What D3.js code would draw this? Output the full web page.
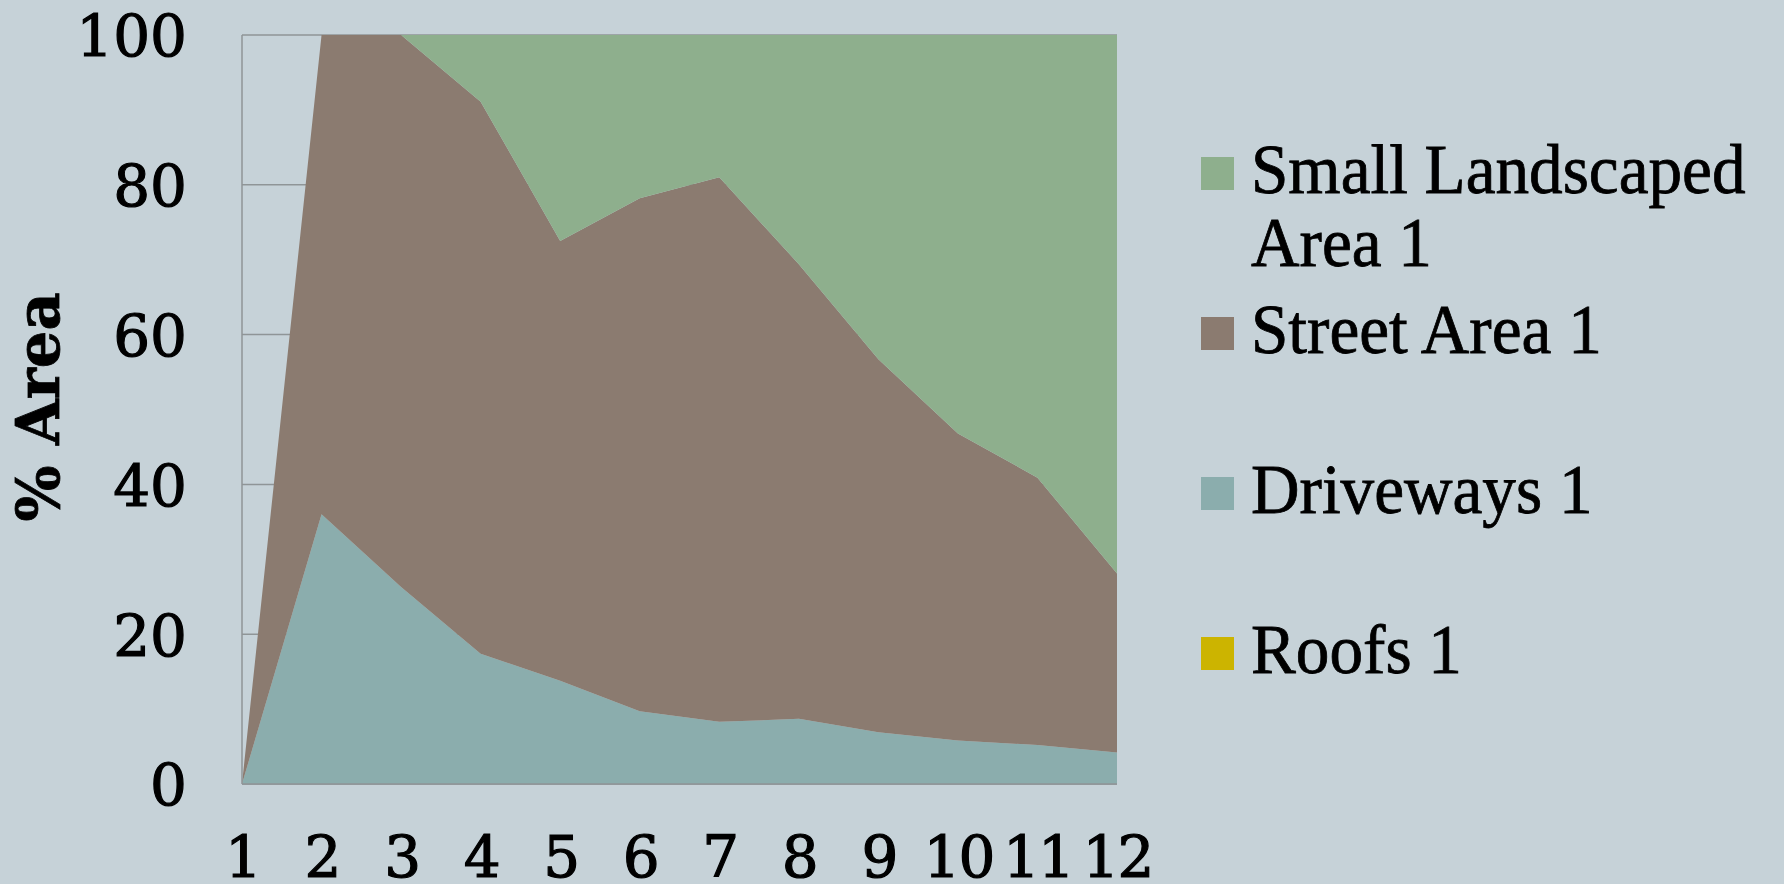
<!DOCTYPE html>
<html>
<head>
<meta charset="utf-8">
<script src="https://cdn.jsdelivr.net/npm/d3@7/dist/d3.min.js"></script>
<style>
  html, body { margin: 0; padding: 0; background: #c6d2d8; }
  svg { display: block; }
</style>
</head>
<body>
<svg id="chart" width="1784" height="884"></svg>
<script>
// Share of each surface type (percent of area) per sample site
const categories = ["1", "2", "3", "4", "5", "6", "7", "8", "9", "10", "11", "12"];
const roofs = [0, 0, 0, 0, 0, 0, 0, 0, 0, 0, 0, 0];
const driveways = [0, 36.0, 26.3, 17.4, 13.8, 9.7, 8.3, 8.7, 6.9, 5.8, 5.2, 4.2];
const streetArea = [0, 64.0, 73.7, 73.7, 58.7, 68.5, 72.7, 60.7, 49.8, 41.0, 35.7, 23.9];
const smallLandscaped = [0, 0, 0, 8.9, 27.5, 21.8, 19.0, 30.6, 43.3, 53.2, 59.1, 71.9];
const yTicks = [0, 20, 40, 60, 80, 100];

const seriesNames = ["Roofs 1", "Driveways 1", "Street Area 1", "Small Landscaped Area 1"];
const seriesColors = ["#ccb400", "#8badad", "#8b7b70", "#8eaf8d"];

const table = categories.map((c, i) => ({
  cat: c,
  "Roofs 1": roofs[i],
  "Driveways 1": driveways[i],
  "Street Area 1": streetArea[i],
  "Small Landscaped Area 1": smallLandscaped[i]
}));

const svg = d3.select("#chart");
const plot = { left: 242, right: 1117, top: 35, bottom: 784 };

const x = d3.scalePoint().domain(categories).range([plot.left, plot.right]);
const y = d3.scaleLinear().domain([0, 100]).range([plot.bottom, plot.top]);
const color = d3.scaleOrdinal().domain(seriesNames).range(seriesColors);

const gridColor = "#8f9597";
const tickFont = "'DejaVu Serif', 'Liberation Serif', serif";

// horizontal gridlines behind the areas
svg.append("g")
  .selectAll("line")
  .data(yTicks)
  .join("line")
  .attr("x1", plot.left).attr("x2", plot.right)
  .attr("y1", d => y(d)).attr("y2", d => y(d))
  .attr("stroke", gridColor).attr("stroke-width", 1.5);

// stacked areas
const stacked = d3.stack().keys(seriesNames)(table);
const area = d3.area()
  .x(d => x(d.data.cat))
  .y0(d => y(d[0]))
  .y1(d => y(d[1]));

svg.append("g")
  .selectAll("path")
  .data(stacked)
  .join("path")
  .attr("d", area)
  .attr("fill", d => color(d.key));

// axis lines
svg.append("line")
  .attr("x1", plot.left).attr("x2", plot.left)
  .attr("y1", plot.top).attr("y2", plot.bottom)
  .attr("stroke", gridColor).attr("stroke-width", 1.5);
svg.append("line")
  .attr("x1", plot.left).attr("x2", plot.right)
  .attr("y1", plot.bottom).attr("y2", plot.bottom)
  .attr("stroke", gridColor).attr("stroke-width", 1.5);

// y axis tick labels
const yAxis = d3.axisLeft(y).tickValues(yTicks).tickSize(0).tickPadding(55);
const gy = svg.append("g").attr("transform", `translate(${plot.left},0)`).call(yAxis);
gy.select(".domain").remove();
gy.selectAll("text")
  .attr("font-family", tickFont)
  .attr("font-size", 58)
  .attr("fill", "#000")
  .attr("stroke", "#000")
  .attr("stroke-width", 1.2)
  .attr("dy", "0.36em");

// x axis tick labels
const xAxis = d3.axisBottom(x).tickSize(0).tickPadding(0);
const gx = svg.append("g").attr("transform", `translate(0,${plot.bottom})`).call(xAxis);
gx.select(".domain").remove();
gx.selectAll("text")
  .attr("font-family", tickFont)
  .attr("font-size", 58)
  .attr("fill", "#000")
  .attr("stroke", "#000")
  .attr("stroke-width", 1.2)
  .attr("letter-spacing", -2)
  .attr("dy", null)
  .attr("y", 93);

// y axis title
svg.append("text")
  .attr("transform", "translate(59,407) rotate(-90)")
  .attr("text-anchor", "middle")
  .attr("font-family", tickFont)
  .attr("font-weight", "bold")
  .attr("font-size", 59)
  .attr("fill", "#000")
  .attr("stroke", "#000")
  .attr("stroke-width", 0.8)
  .text("% Area");

// legend (top-most series first)
const legendFont = "'Liberation Serif', 'Times New Roman', serif";
const legendItems = [
  { key: "Small Landscaped Area 1", lines: ["Small Landscaped", "Area 1"], base: 193 },
  { key: "Street Area 1", lines: ["Street Area 1"], base: 353 },
  { key: "Driveways 1", lines: ["Driveways 1"], base: 513 },
  { key: "Roofs 1", lines: ["Roofs 1"], base: 673 }
];
const lg = svg.append("g");
const items = lg.selectAll("g").data(legendItems).join("g");
items.append("rect")
  .attr("x", 1201).attr("y", d => d.base - 36)
  .attr("width", 33).attr("height", 33)
  .attr("fill", d => color(d.key));
items.append("text")
  .attr("x", 1251).attr("y", d => d.base)
  .attr("font-family", legendFont)
  .attr("font-size", 70)
  .attr("fill", "#000")
  .attr("stroke", "#000")
  .attr("stroke-width", 0.8)
  .attr("transform", "translate(1251,0) scale(0.96,1) translate(-1251,0)")
  .selectAll("tspan")
  .data(d => d.lines)
  .join("tspan")
  .attr("x", 1251)
  .attr("dy", (d, i) => i === 0 ? 0 : 73)
  .text(d => d);
</script>
</body>
</html>
